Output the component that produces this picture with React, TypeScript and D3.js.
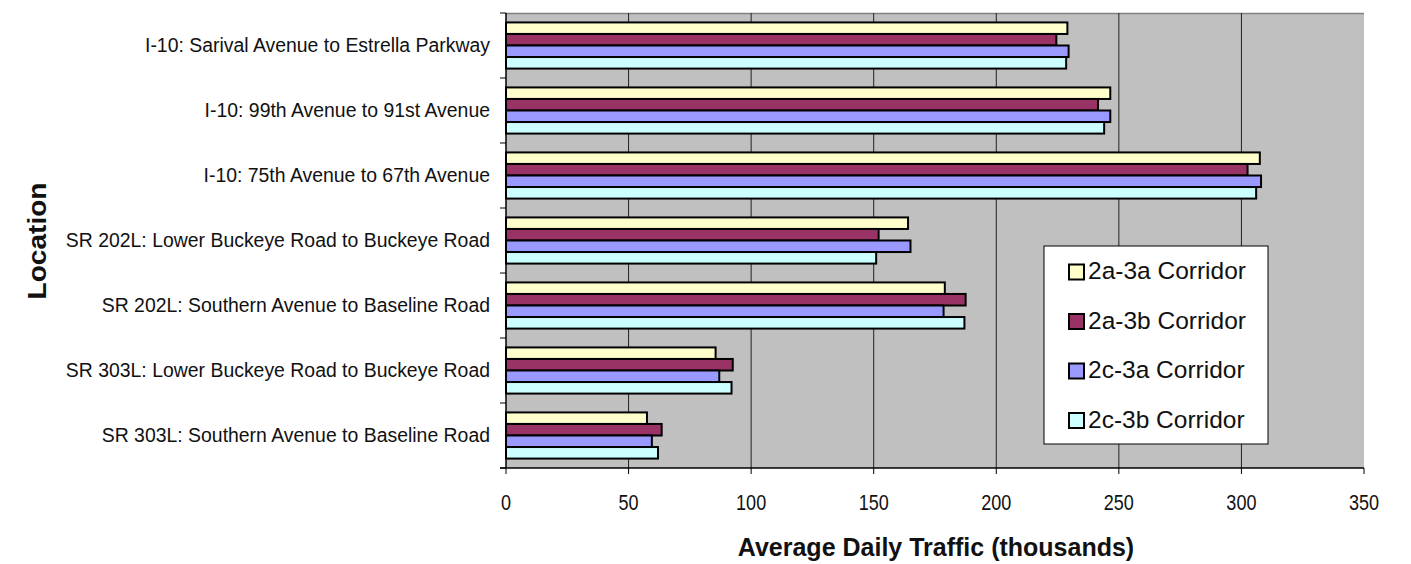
import React from "react";
import * as d3 from "d3";

const locations = [
  "I-10: Sarival Avenue to Estrella Parkway",
  "I-10: 99th Avenue to 91st Avenue",
  "I-10: 75th Avenue to 67th Avenue",
  "SR 202L: Lower Buckeye Road to Buckeye Road",
  "SR 202L: Southern Avenue to Baseline Road",
  "SR 303L: Lower Buckeye Road to Buckeye Road",
  "SR 303L: Southern Avenue to Baseline Road",
];

const seriesNames = ["2a-3a Corridor", "2a-3b Corridor", "2c-3a Corridor", "2c-3b Corridor"];
const seriesColors = ["#FFFFCC", "#993366", "#9999FF", "#CCFFFF"];

const corridor2a3a = [229, 246.5, 307.5, 164, 179, 85.5, 57.5];
const corridor2a3b = [224.5, 241.5, 302.5, 152, 187.5, 92.5, 63.5];
const corridor2c3a = [229.5, 246.5, 308, 165, 178.5, 87, 59.5];
const corridor2c3b = [228.5, 244, 306, 151, 187, 92, 62];

const xTicks = [0, 50, 100, 150, 200, 250, 300, 350];

const W = 1411;
const H = 564;
const plot = { left: 506, right: 1364, top: 13, bottom: 468 };

// horizontally squeeze a text element around its anchor x
const squeeze = (ax: number, s: number) => `translate(${ax},0) scale(${s},1) translate(${-ax},0)`;

export default function App() {
  const seriesValues = [corridor2a3a, corridor2a3b, corridor2c3a, corridor2c3b];

  const x = d3.scaleLinear().domain([0, 350]).range([plot.left, plot.right]);
  const y = d3
    .scaleBand<string>()
    .domain(locations)
    .range([plot.top, plot.bottom])
    .paddingInner(0.29)
    .paddingOuter(0.145);
  const inner = d3
    .scaleBand<string>()
    .domain(seriesNames)
    .range([0, y.bandwidth()]);

  const step = y.step();
  const boundaries = d3.range(locations.length + 1).map((i) => plot.top + i * step);

  const font = "Arial, 'Liberation Sans', sans-serif";

  return (
    <svg width={W} height={H} style={{ position: "absolute", left: 0, top: 0, background: "#fff" }}>
      <rect x={0} y={0} width={W} height={H} fill="#fff" />
      {/* plot area */}
      <rect
        x={plot.left}
        y={plot.top}
        width={plot.right - plot.left}
        height={plot.bottom - plot.top}
        fill="#C0C0C0"
      />
      <line x1={plot.left} x2={plot.right} y1={plot.top + 0.5} y2={plot.top + 0.5} stroke="#808080" strokeWidth={1.5} />
      {/* vertical gridlines */}
      {xTicks.slice(1, -1).map((t) => (
        <line
          key={"g" + t}
          x1={x(t)}
          x2={x(t)}
          y1={plot.top}
          y2={plot.bottom}
          stroke="#222"
          strokeWidth={1}
        />
      ))}
      {/* bars */}
      {locations.map((loc, i) => (
        <g key={loc}>
          {seriesNames.map((s, j) => (
            <rect
              key={s}
              x={x(0)}
              y={(y(loc) as number) + (inner(s) as number)}
              width={x(seriesValues[j][i]) - x(0)}
              height={inner.bandwidth()}
              fill={seriesColors[j]}
              stroke="#000"
              strokeWidth={2}
            />
          ))}
        </g>
      ))}
      {/* axes */}
      <line x1={plot.left} x2={plot.left} y1={plot.top} y2={plot.bottom} stroke="#000" strokeWidth={1.5} />
      <line x1={plot.left - 6} x2={plot.right} y1={plot.bottom} y2={plot.bottom} stroke="#000" strokeWidth={1.5} />
      {boundaries.map((b, i) => (
        <line key={"yt" + i} x1={plot.left - 6} x2={plot.left} y1={b} y2={b} stroke="#000" strokeWidth={1} />
      ))}
      {xTicks.map((t) => (
        <line key={"xt" + t} x1={x(t)} x2={x(t)} y1={plot.bottom} y2={plot.bottom + 6} stroke="#000" strokeWidth={1} />
      ))}
      {xTicks.map((t) => (
        <text
          key={"xl" + t}
          x={x(t)}
          y={504}
          textAnchor="middle"
          dominantBaseline="middle"
          fontFamily={font}
          fontSize={22}
          fill="#111"
          transform={squeeze(x(t), 0.82)}
        >
          {t}
        </text>
      ))}
      {locations.map((loc) => {
        const cy = (y(loc) as number) + y.bandwidth() / 2;
        return (
          <text
            key={"yl" + loc}
            x={490}
            y={cy + 1}
            textAnchor="end"
            dominantBaseline="middle"
            fontFamily={font}
            fontSize={21}
            fill="#111"
            transform={squeeze(490, 0.925)}
          >
            {loc}
          </text>
        );
      })}
      {/* axis titles */}
      <text
        x={936}
        y={549}
        textAnchor="middle"
        dominantBaseline="middle"
        fontFamily={font}
        fontWeight="bold"
        fontSize={25}
        fill="#111"
      >
        Average Daily Traffic (thousands)
      </text>
      <text
        x={0}
        y={0}
        textAnchor="middle"
        dominantBaseline="middle"
        fontFamily={font}
        fontWeight="bold"
        fontSize={26}
        fill="#111"
        transform={`translate(39,241) rotate(-90) scale(1.08,1)`}
      >
        Location
      </text>
      {/* legend */}
      <rect x={1044} y={246} width={224} height={198} fill="#fff" stroke="#000" strokeWidth={1} />
      {seriesNames.map((s, j) => {
        const ly = 272 + j * 49.5;
        return (
          <g key={"lg" + s}>
            <rect x={1069} y={ly - 7.5} width={15} height={15} fill={seriesColors[j]} stroke="#000" strokeWidth={2} />
            <text
              x={1088}
              y={ly + 1}
              dominantBaseline="middle"
              fontFamily={font}
              fontSize={24.5}
              fill="#111"
            >
              {s}
            </text>
          </g>
        );
      })}
    </svg>
  );
}
